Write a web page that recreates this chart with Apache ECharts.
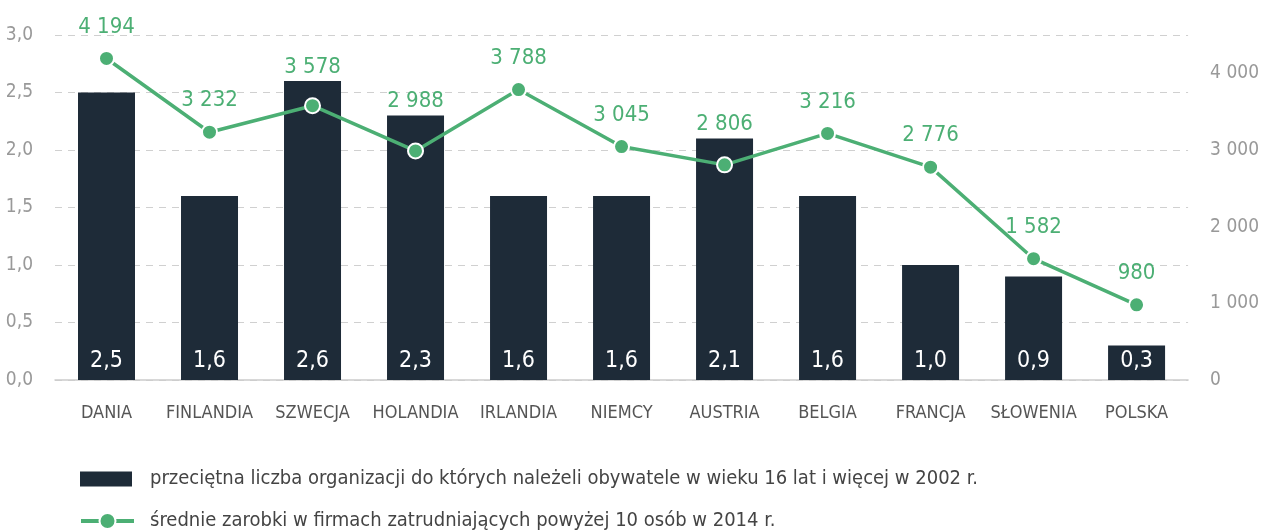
<!DOCTYPE html>
<html><head><meta charset="utf-8">
<script src="https://cdn.jsdelivr.net/npm/echarts@6/dist/echarts.min.js"></script>
<style>html,body{margin:0;padding:0;background:#fff}#c{width:1262px;height:532px}</style>
</head><body><div id="c"></div>
<script>
var categories = ['DANIA','FINLANDIA','SZWECJA','HOLANDIA','IRLANDIA','NIEMCY','AUSTRIA','BELGIA','FRANCJA','SŁOWENIA','POLSKA'];
var barValues = [2.5,1.6,2.6,2.3,1.6,1.6,2.1,1.6,1.0,0.9,0.3];
var lineValues = [4194,3232,3578,2988,3788,3045,2806,3216,2776,1582,980];
var barName = 'przeciętna liczba organizacji do których należeli obywatele w wieku 16 lat i więcej w 2002 r.';
var lineName = 'średnie zarobki w firmach zatrudniających powyżej 10 osób w 2014 r.';

function pickFont(cands){
  var ctx = document.createElement('canvas').getContext('2d');
  var s = 'przeciętna liczba 0123456789 ABCDEF';
  for (var i=0;i<cands.length;i++){
    ctx.font = '40px monospace'; var w0 = ctx.measureText(s).width;
    ctx.font = '40px "'+cands[i]+'",monospace'; var w1 = ctx.measureText(s).width;
    ctx.font = '40px serif'; var w2 = ctx.measureText(s).width;
    ctx.font = '40px "'+cands[i]+'",serif'; var w3 = ctx.measureText(s).width;
    if (w0!==w1 || w2!==w3) return '"'+cands[i]+'"';
  }
  return 'sans-serif';
}
var FONT = pickFont(['Liberation Sans Narrow','DejaVu Sans Condensed','Roboto Condensed','Roboto']);
var NAVY = '#1e2b38', GREEN = '#4caf74';
var SYM = 15, LDIST = 12;
function fmtThousands(v){ return String(v).replace(/\B(?=(\d{3})+(?!\d))/g,' '); }
function fmtDec(v){ return v.toFixed(1).replace('.',','); }

var chart = echarts.init(document.getElementById('c'), null, {renderer:'canvas'});
chart.setOption({
  animation:false,
  textStyle:{fontFamily:FONT},
  grid:{left:55, right:72, top:35, bottom:152, containLabel:false},
  legend:[{
    orient:'vertical', left:80, top:469, padding:0, itemWidth:52, itemHeight:15,
    textStyle:{fontFamily:FONT, fontSize:20, color:'#444', padding:[0,0,0,13]},
    data:[{name:barName, icon:'rect'}]
  },{
    orient:'vertical', left:79, top:511, padding:0, itemWidth:53, itemHeight:20,
    textStyle:{fontFamily:FONT, fontSize:20, color:'#444', padding:[0,0,0,11]},
    data:[{name:lineName, itemStyle:{borderWidth:2, borderColor:'#fff', color:GREEN}, lineStyle:{width:4, color:GREEN}}]
  }],
  xAxis:{
    type:'category', data:categories,
    axisLine:{lineStyle:{color:'#ccc', width:1.5}},
    axisTick:{show:false},
    axisLabel:{interval:0, fontFamily:FONT, fontSize:18, color:'#555', margin:24}
  },
  yAxis:[{
    type:'value', min:0, max:3, interval:0.5,
    axisLine:{show:false}, axisTick:{show:false},
    axisLabel:{fontFamily:FONT, fontSize:19, color:'#999', margin:22, formatter:function(v){return fmtDec(v);}},
    splitLine:{lineStyle:{color:'#d0d0d0', type:[7,6], width:1.2}}
  },{
    type:'value', min:0, max:4500, interval:1000,
    axisLine:{show:false}, axisTick:{show:false},
    axisLabel:{fontFamily:FONT, fontSize:19, color:'#999', margin:22, formatter:function(v){return v>4000?'':fmtThousands(v);}},
    splitLine:{show:false}
  }],
  series:[{
    name:barName, type:'bar', data:barValues, barWidth:57, yAxisIndex:0,
    itemStyle:{color:NAVY},
    label:{show:true, position:'insideBottom', distance:7, color:'#fff', fontFamily:FONT, fontSize:23,
      formatter:function(p){return fmtDec(p.value);}}
  },{
    name:lineName, type:'line', data:lineValues, yAxisIndex:1,
    lineStyle:{color:GREEN, width:3.5},
    itemStyle:{color:GREEN, borderColor:'#fff', borderWidth:2},
    symbol:'circle', symbolSize:SYM,
    label:{show:true, position:'top', distance:LDIST, color:GREEN, fontFamily:FONT, fontSize:22,
      formatter:function(p){return fmtThousands(p.value);}}
  }]
});

// lift line labels that would sit on top of a bar so they clear the bar top
var lineData = lineValues.map(function(v, i){
  var my = chart.convertToPixel({yAxisIndex:1}, v);
  var by = chart.convertToPixel({yAxisIndex:0}, barValues[i]);
  var boxBottom = my - SYM/2 - LDIST;
  var target = by - 2;
  if (boxBottom > target) return {value:v, label:{offset:[0, target - boxBottom]}};
  return v;
});
chart.setOption({series:[{}, {data:lineData}]});
</script></body></html>
